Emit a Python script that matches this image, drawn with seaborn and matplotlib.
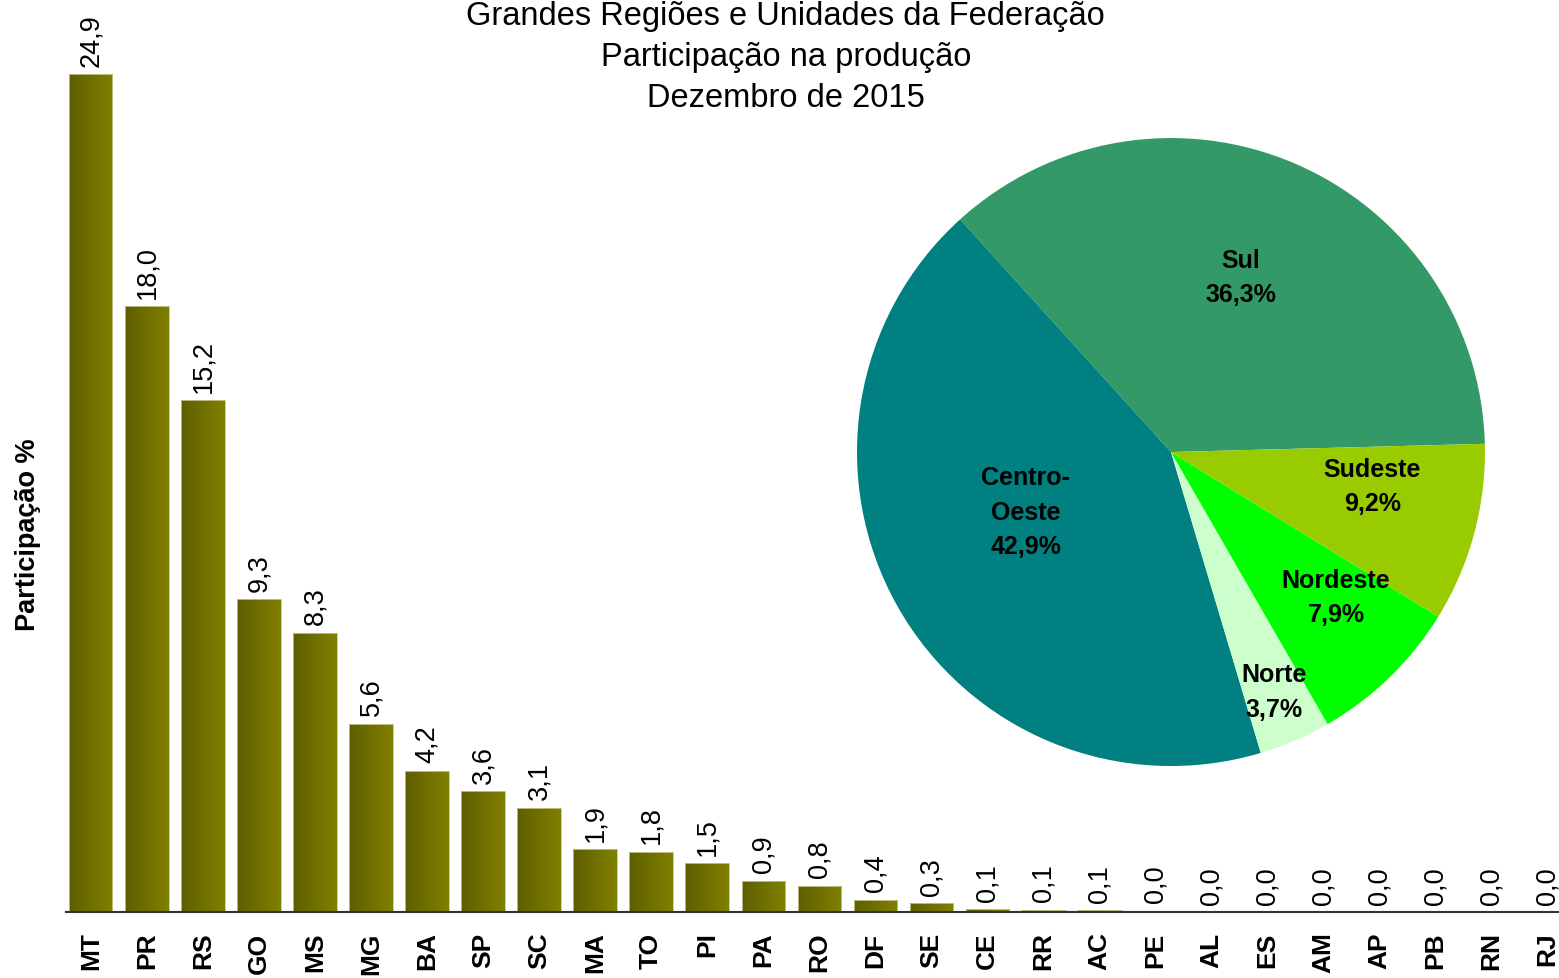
import numpy as np
import pandas as pd
import matplotlib
matplotlib.use('Agg')
import matplotlib.pyplot as plt
import seaborn as sns

sns.set_style("white")
plt.rcParams['font.family'] = ['Liberation Sans', 'DejaVu Sans']
plt.rcParams['text.color'] = 'black'
plt.rcParams['axes.labelcolor'] = 'black'
plt.rcParams['xtick.color'] = 'black'

# states, share of production (%)
ufs = ['MT', 'PR', 'RS', 'GO', 'MS', 'MG', 'BA', 'SP', 'SC', 'MA', 'TO', 'PI', 'PA', 'RO',
       'DF', 'SE', 'CE', 'RR', 'AC', 'PE', 'AL', 'ES', 'AM', 'AP', 'PB', 'RN', 'RJ']
shares = [24.9, 18.0, 15.2, 9.3, 8.3, 5.6, 4.2, 3.6, 3.1, 1.86, 1.79, 1.46, 0.93, 0.78,
          0.37, 0.27, 0.09, 0.07, 0.06, 0.04, 0.0, 0.0, 0.0, 0.0, 0.0, 0.0, 0.0]

# regions (pie)
regions = ['Sul', 'Centro-\nOeste', 'Norte', 'Nordeste', 'Sudeste']
region_shares = [36.3, 42.9, 3.7, 7.9, 9.2]
region_colors = ['#339966', '#008080', '#CCFFCC', '#00FF00', '#99CC00']

title_lines = ['Grandes Regiões e Unidades da Federação',
               'Participação na produção',
               'Dezembro de 2015']

df = pd.DataFrame({'UF': ufs, 'share': shares})

fig = plt.figure(figsize=(15.59, 9.79), dpi=100)
ax = fig.add_axes([0.0423, 0.0674, 0.9577, 0.9326])

sns.barplot(data=df, x='UF', y='share', color='#808000', saturation=1,
            width=0.77, ax=ax, order=ufs)

# horizontal gradient inside each bar (dark olive on the left -> olive on the right)
grad = np.linspace(0, 1, 64).reshape(1, -1)
cmap = matplotlib.colors.LinearSegmentedColormap.from_list('olive', ['#5e5e00', '#808000'])
for p in ax.patches:
    x0, y0 = p.get_x(), p.get_y()
    w, h = p.get_width(), p.get_height()
    if h <= 0:
        continue
    im = ax.imshow(grad, cmap=cmap, aspect='auto', extent=[x0, x0 + w, y0, y0 + h],
                   zorder=1, interpolation='bilinear')
    im.set_clip_path(p)
    p.set_facecolor('none')
    p.set_edgecolor('#c8c89a')
    p.set_linewidth(0.6)
    p.set_zorder(2)

for i, v in enumerate(shares):
    ax.annotate('{:.1f}'.format(v).replace('.', ','), (i, v), xytext=(0, 6),
                textcoords='offset points', rotation=90, ha='center', va='bottom',
                fontsize=19.5, color='black')

ax.set_xlim(-0.446, 26.21)
ax.set_ylim(0, 27.13)
ax.set_yticks([])
ax.set_xlabel('')
ax.set_ylabel('Participação %', fontsize=19.5, fontweight='bold')
ax.yaxis.set_label_coords(-0.017, 0.414)
ax.tick_params(axis='x', length=0, pad=14)
for lbl in ax.get_xticklabels():
    lbl.set_rotation(90)
    lbl.set_fontsize(19)
    lbl.set_fontweight('bold')
    lbl.set_va('top')
for s in ['top', 'right', 'left']:
    ax.spines[s].set_visible(False)
ax.spines['bottom'].set_color('#333333')
ax.spines['bottom'].set_linewidth(1.5)

fig.text(0.504, 0.999, '\n'.join(title_lines), ha='center', va='top',
         fontsize=23.5, linespacing=1.42)

# pie of regions
pax = fig.add_axes([0.5497, 0.2165, 0.4028, 0.6415])
wedges, _ = pax.pie(region_shares, colors=region_colors, startangle=1.5,
                    counterclock=True, radius=1, wedgeprops={'linewidth': 0})
label_r = [0.60, 0.50, 0.83, 0.70, 0.65]
label_shift = [1.5, -7, 0, 4.5, 5.5]
for wdg, name, val, r, sh in zip(wedges, regions, region_shares, label_r, label_shift):
    ang = np.deg2rad((wdg.theta1 + wdg.theta2) / 2 + sh)
    pax.text(r * np.cos(ang), r * np.sin(ang),
             '{}\n{:.1f}%'.format(name, val).replace('.', ','),
             ha='center', va='center', fontsize=18, fontweight='bold',
             linespacing=1.55, color='black')
pax.set_xlim(-1, 1)
pax.set_ylim(-1, 1)
pax.set_aspect('equal')
pax.axis('off')

fig.savefig('out.png', dpi=100)
